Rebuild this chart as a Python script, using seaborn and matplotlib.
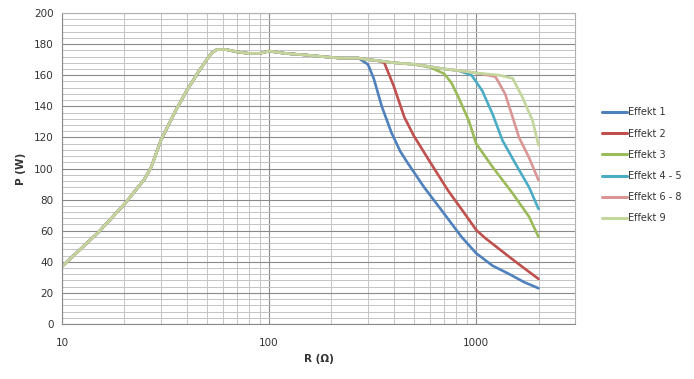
import numpy as np
import pandas as pd
import matplotlib
matplotlib.use("Agg")
import matplotlib.pyplot as plt
from matplotlib.ticker import MultipleLocator, LogLocator, FixedLocator, NullFormatter
import seaborn as sns

# ── data ───────────────────────────────────────────────────────────────────
SERIES = ["Effekt 1", "Effekt 2", "Effekt 3", "Effekt 4 - 5", "Effekt 6 - 8", "Effekt 9"]
COLORS = ["#4F81BD", "#C0504D", "#9BBB59", "#4BACC6", "#D99694", "#C3D69B"]

# shared rising part + plateau
R_rise = [10, 15, 20, 25, 27, 30, 35, 40, 45, 50, 53, 56, 62, 70, 80, 90, 100, 120, 150, 180, 220, 270]
P_rise = [37, 59, 77, 93, 101, 118, 136, 150, 161, 170, 174.5, 176.5, 176.5, 175, 174, 174, 175.5, 174, 173, 172, 171, 171]

R_e1 = [300, 320, 350, 390, 430, 470, 560, 700, 850, 1000, 1200, 1450, 1700, 2000]
P_e1 = [167, 158, 140, 123, 111, 103, 88, 71, 56, 45.5, 37.5, 32, 27, 23]

R_e2 = [300, 330, 360, 400, 450, 500, 600, 730, 880, 1000, 1100, 1450, 1700, 2000]
P_e2 = [170, 169.5, 168, 153, 133, 121, 104, 86, 71, 60.5, 55.5, 43, 36, 29]

R_e3 = [300, 330, 400, 500, 600, 700, 760, 820, 920, 1000, 1200, 1500, 1800, 2000]
P_e3 = [170, 169.5, 168, 167, 165, 161, 155, 146, 131, 116, 101, 84, 69, 56]

R_e45 = [300, 330, 400, 500, 600, 700, 820, 950, 1070, 1200, 1340, 1550, 1800, 2000]
P_e45 = [170, 169.5, 168, 167, 165.5, 164, 163, 160, 150, 135, 118, 103, 88, 74]

R_e68 = [300, 330, 400, 500, 600, 700, 820, 1000, 1240, 1380, 1500, 1610, 1800, 2000]
P_e68 = [170, 169.5, 168, 167, 165.5, 164, 163, 161.5, 159, 148, 133, 120, 107, 92.5]

R_e9 = [300, 330, 400, 500, 600, 700, 820, 1000, 1290, 1500, 1670, 1870, 2000]
P_e9 = [170, 169.5, 168, 167, 165.5, 164, 163, 161.5, 160, 158, 146, 131, 115]

tails = [(R_e1, P_e1), (R_e2, P_e2), (R_e3, P_e3),
         (R_e45, P_e45), (R_e68, P_e68), (R_e9, P_e9)]

rows = []
for name, (rt, pt) in zip(SERIES, tails):
    for r, p in zip(R_rise + rt, P_rise + pt):
        rows.append({"R": r, "P": p, "serie": name})
df = pd.DataFrame(rows)

# ── plot ───────────────────────────────────────────────────────────────────
sns.set_theme(style="white")
plt.rcParams["font.family"] = ["DejaVu Sans"]

fig = plt.figure(figsize=(6.94, 3.79), dpi=100)
ax = fig.add_axes([0.0893, 0.1451, 0.7392, 0.8206])

sns.lineplot(data=df, x="R", y="P", hue="serie", hue_order=SERIES,
             palette=COLORS, sort=False, estimator=None, linewidth=1.9, ax=ax)

ax.set_xscale("log")
ax.set_xlim(10, 3000)
ax.set_ylim(0, 200)

ax.yaxis.set_major_locator(MultipleLocator(20))
ax.yaxis.set_minor_locator(MultipleLocator(4))
ax.xaxis.set_major_locator(FixedLocator([10, 100, 1000]))
ax.xaxis.set_major_formatter(matplotlib.ticker.FixedFormatter(["10", "100", "1000"]))
ax.xaxis.set_minor_locator(LogLocator(base=10, subs=np.arange(2, 10), numticks=20))
ax.xaxis.set_minor_formatter(NullFormatter())

ax.grid(which="major", color="#8a8a8a", linewidth=0.8)
ax.grid(which="minor", color="#c4c4c4", linewidth=0.7)
ax.set_axisbelow(True)

ax.tick_params(axis="both", which="major", direction="out", length=3,
               width=0.8, color="#8a8a8a", labelsize=7.5, labelcolor="#333333", pad=3)
ax.tick_params(axis="x", which="major", pad=7)
ax.tick_params(axis="both", which="minor", length=0)

for s in ax.spines.values():
    s.set_color("#b0b0b0")
    s.set_linewidth(0.8)
ax.spines["left"].set_color("#8a8a8a")
ax.spines["bottom"].set_color("#8a8a8a")

ax.set_xlabel("R (Ω)", fontsize=7.5, fontweight="bold", color="#333333")
ax.set_ylabel("P (W)", fontsize=7.5, fontweight="bold", color="#333333", labelpad=6)
ax.xaxis.set_label_coords(0.5, -0.095)

ax.legend(loc="center left", bbox_to_anchor=(1.035, 0.51), frameon=False,
          fontsize=7, handlelength=2.6, handletextpad=0.1, labelspacing=1.15,
          labelcolor="#333333")
for line in ax.get_legend().get_lines():
    line.set_linewidth(2.2)

fig.savefig("out.png", dpi=100)
